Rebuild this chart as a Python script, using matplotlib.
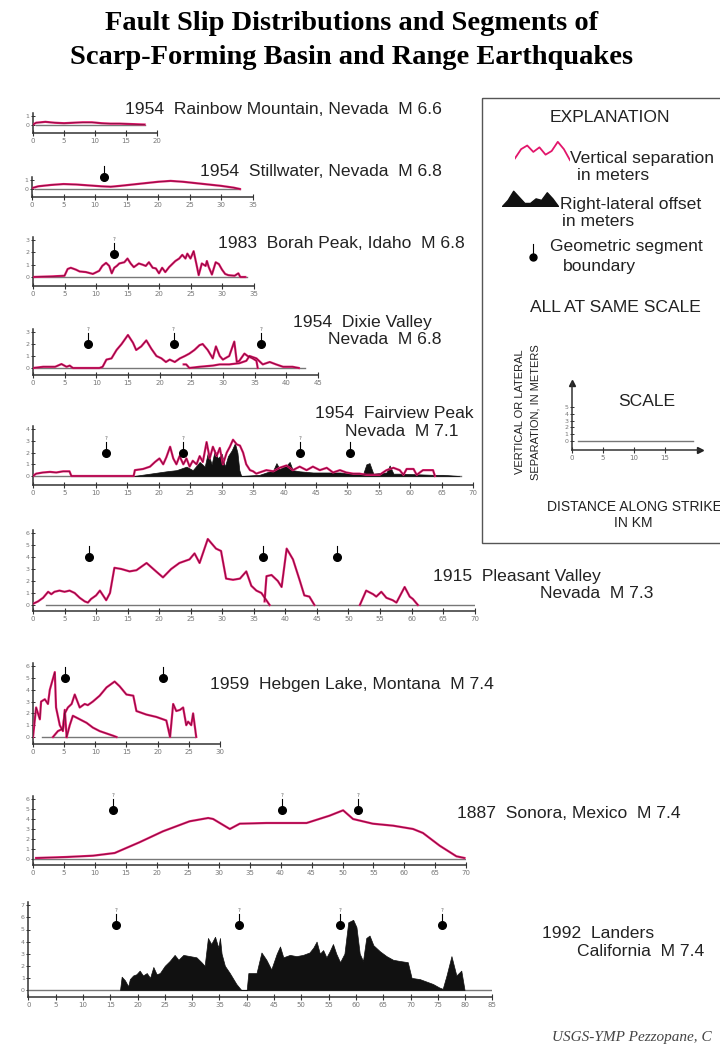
# %%
# Fault slip distributions - Basin and Range scarp-forming earthquakes

import matplotlib

matplotlib.use("Agg")
import matplotlib.pyplot as plt
import numpy as np
from matplotlib.patches import Rectangle

# %%
# Data (km along strike, metres)

rb_km = [0, 0.5, 2, 3.5, 5, 6.5, 8, 9.5, 11, 12.5, 14, 16, 18]
rb_vs = [0.05, 0.25, 0.35, 0.25, 0.2, 0.25, 0.3, 0.3, 0.2, 0.15, 0.15, 0.1, 0.05]

st_km = [0, 1, 3, 5, 7, 9, 11, 12.5, 14, 16, 18, 20, 22, 24, 26, 28, 30, 32, 33]
st_vs = [0.1, 0.3, 0.45, 0.55, 0.5, 0.4, 0.3, 0.25, 0.35, 0.5, 0.65, 0.8, 0.9,
         0.8, 0.65, 0.5, 0.35, 0.15, 0]
st_bounds = [11.5]

bo_km = [0, 3, 5, 5.5, 6, 6.8, 7.4, 8.4, 9.5, 10.5, 11, 11.6, 12.1, 12.5, 12.9,
         13.3, 13.7, 14.5, 15, 15.5, 16, 16.8, 17.4, 17.9, 18.4, 19, 19.5, 20,
         20.5, 21, 21.6, 22.1, 22.6, 23.2, 23.7, 24.2, 24.5, 25, 25.5, 26, 26.3,
         26.8, 27.4, 27.6, 27.9, 28.4, 29, 29.5, 30, 30.5, 31, 32, 32.6, 32.9, 33.7]
bo_vs = [0, 0.05, 0.1, 0.65, 0.75, 0.6, 0.45, 0.4, 0.25, 0.5, 0.9, 1.15, 0.9,
         0.3, 0.75, 0.9, 1.1, 1.2, 1.5, 1.1, 0.8, 1.1, 1.0, 0.9, 1.2, 0.75, 0.7,
         0.3, 0.75, 0.4, 0.8, 1.05, 1.3, 1.5, 1.8, 1.5, 1.9, 1.5, 2.1, 0.9, 0.15,
         1.1, 0.9, 1.3, 0.8, 0.2, 1.2, 1.05, 0.6, 0.25, 0.15, 0.1, 0.3, 0.0, 0.0]
bo_bounds = [12.9]

dx_km = [0, 1.6, 3.5, 4.5, 5.3, 5.8, 6.3, 10.5, 11, 11.6, 12.4, 13.2, 14, 15,
         15.8, 16.3, 17.1, 17.9, 18.7, 19.5, 20.3, 21, 21.6, 22.4, 23.2, 24, 24.7,
         25.5, 26.3, 26.8, 27.6, 28.4, 28.9, 29.5, 30, 31, 31.8, 32.2, 32.6, 33.4,
         33.9, 34.7, 35.3, 35.5]
dx_vs = [0, 0.1, 0.1, 0.33, 0.1, 0.2, 0, 0, 0.1, 0.7, 0.8, 1.5, 2.0, 2.75, 2.1,
         1.5, 1.8, 2.3, 1.6, 1.0, 0.8, 0.5, 0.7, 0.5, 0.8, 1.0, 1.2, 1.5, 1.9,
         2.0, 1.5, 0.8, 1.8, 1.0, 0.7, 1.0, 2.2, 0.5, 0.6, 1.2, 1.0, 0.8, 0.6, 0.0]
dx2_km = [23.8, 24.2, 24.7, 26.3, 28.4, 29.5, 31, 32.6, 33.7, 34.2, 35.3, 36.3,
          37.4, 38.4, 39.5, 41, 42]
dx2_vs = [0.3, 0.3, 0.0, 0.1, 0.2, 0.3, 0.3, 0.4, 0.6, 1.0, 0.8, 0.3, 0.5, 0.3,
          0.1, 0.1, 0.0]
dx_bounds = [8.7, 22.2, 36.0]

fv_km = [0, 0.5, 1.6, 2.7, 3.7, 4.8, 5.8, 6.1, 16.0, 16.2, 17.5, 18.6, 19.4,
         20.1, 20.7, 21.2, 21.8, 22.3, 22.8, 23.3, 23.9, 24.4, 24.9, 25.4, 26.0,
         26.5, 27.0, 27.6, 28.1, 28.6, 29.2, 29.7, 30.2, 30.8, 31.3, 31.8, 32.4,
         32.9, 33.4, 33.9, 34.5, 35.0, 35.5, 36.0, 37.1, 38.2, 39.2, 40.3, 41.3,
         42.4, 43.5, 44.5, 45.6, 46.7, 47.7, 48.8, 49.8, 50.9, 51.9, 53.0, 55.1,
         56.2, 57.3, 58.3, 58.9, 59.4, 60.5, 61.0, 62.0, 63.6, 63.9]
fv_vs = [0, 0.2, 0.3, 0.35, 0.3, 0.4, 0.4, 0.0, 0.0, 0.5, 0.6, 0.8, 1.2, 1.5,
         1.0, 1.6, 2.5, 1.5, 1.0, 1.7, 1.0, 1.5, 0.8, 1.3, 1.0, 1.7, 1.2, 2.9,
         1.5, 2.5, 1.7, 2.4, 1.0, 2.0, 2.5, 3.1, 2.7, 2.6, 2.0, 1.0, 0.5, 0.4,
         0.2, 0.3, 0.5, 0.4, 0.7, 0.9, 0.5, 0.8, 0.5, 0.8, 0.5, 0.7, 0.3, 0.5,
         0.3, 0.2, 0.2, 0.1, 0.1, 0.5, 0.7, 0.5, 0.1, 0.6, 0.6, 0.1, 0.5, 0.5, 0.0]
fv_rl_km = [16.0, 18.6, 21.2, 22.8, 24.4, 25.4, 26.5, 27.3, 27.8, 28.4, 28.9,
            29.4, 30.0, 30.5, 31.0, 31.6, 32.1, 32.5, 32.8, 33.1, 36.0, 37.1,
            38.2, 38.7, 39.2, 40.3, 40.8, 41.3, 42.4, 44.5, 46.7, 48.8, 50.9,
            52.5, 53.0, 53.5, 54.1, 56.2, 56.7, 57.3, 58.3, 63.6, 65.2, 67.8]
fv_rl = [0, 0.2, 0.4, 0.5, 0.8, 0.5, 1.2, 0.8, 2.0, 1.0, 2.2, 1.5, 1.9, 0.8,
         1.7, 2.2, 2.8, 2.0, 0.5, 0.0, 0.1, 0.3, 0.5, 1.1, 0.6, 0.9, 1.2, 0.5,
         0.4, 0.3, 0.3, 0.3, 0.2, 0.2, 1.0, 1.1, 0.2, 0.3, 0.9, 0.2, 0.2, 0.1,
         0.1, 0.0]
fv_bounds = [11.6, 23.8, 42.4]
fv_bounds_sure = [50.4]

pv1_km = [0, 0.8, 1.6, 2.4, 2.9, 3.4, 4.2, 5.0, 5.8, 6.6, 7.4, 8.2, 8.7, 9.2,
          10.0, 10.6, 11.1, 11.6, 12.2, 12.9, 14.0, 15.3, 16.4, 18.0, 19.5, 20.6,
          21.9, 23.2, 24.8, 25.6, 26.4, 27.7, 29.0, 29.8, 30.6, 31.7, 32.8, 33.8,
          34.6, 35.4, 36.2, 37.5]
pv1_vs = [0.1, 0.3, 0.6, 1.1, 0.9, 1.1, 1.2, 1.1, 1.2, 1.0, 0.6, 0.3, 0.2, 0.5,
          0.8, 1.2, 0.8, 0.4, 1.0, 3.1, 3.0, 2.8, 2.9, 3.5, 2.8, 2.3, 3.0, 3.5,
          3.8, 4.3, 3.5, 5.5, 4.7, 4.5, 2.2, 2.1, 2.2, 2.8, 1.6, 1.2, 1.0, 0.0]
pv2_km = [36.7, 37.0, 37.8, 38.8, 39.4, 40.2, 41.2, 42.3, 43.0, 43.8, 44.6]
pv2_vs = [0.3, 2.4, 2.5, 2.0, 1.5, 4.7, 3.8, 2.0, 0.8, 0.7, 0.0]
pv3_km = [51.8, 52.8, 53.9, 54.4, 55.2, 56.0, 57.0, 57.6, 58.9, 59.7, 60.2, 61.0]
pv3_vs = [0.0, 1.2, 0.9, 0.7, 1.1, 0.6, 0.4, 0.2, 1.5, 0.7, 0.5, 0.0]
pv_bounds = [8.9, 36.4, 48.2]

hb1_km = [0, 0.5, 1.1, 1.3, 1.9, 2.4, 2.7, 3.5, 3.7, 4.3, 4.8, 5.1, 5.4]
hb1_vs = [0, 2.5, 1.5, 3.0, 3.2, 2.8, 4.0, 5.5, 2.5, 1.0, 0.5, 2.3, 0.0]
hb2_km = [3.2, 4.0, 4.8, 5.1, 5.6, 6.2, 6.7, 7.5, 8.3, 8.8, 9.6, 10.7, 11.8,
          13.1, 13.9, 15.0, 16.1, 16.6, 18.2, 19.8, 21.4, 22.0, 22.5, 23.0, 23.6,
          24.1, 24.6, 24.9, 25.4, 25.7, 26.2]
hb2_vs = [0, 0.5, 0.7, 2.0, 2.5, 2.8, 3.6, 2.5, 2.8, 2.7, 3.0, 3.5, 4.2, 4.7,
          4.3, 3.6, 3.5, 2.2, 1.9, 1.7, 1.4, 0.0, 2.8, 2.2, 2.3, 2.5, 1.0, 1.3,
          1.0, 2.0, 0.0]
hb3_km = [5.4, 5.9, 6.4, 7.5, 8.6, 9.6, 10.7, 11.8, 12.9, 13.4]
hb3_vs = [0.0, 1.0, 1.8, 1.5, 1.2, 0.8, 0.5, 0.3, 0.1, 0.0]
hb_bounds = [5.1, 20.8]

so_km = [0.5, 5.4, 9.7, 13.2, 17.2, 21.0, 25.3, 28.3, 29.1, 31.8, 33.4, 37.7,
         44.2, 47.9, 50.1, 51.7, 54.9, 58.2, 61.4, 63.0, 65.7, 68.4, 69.7]
so_vs = [0.1, 0.2, 0.33, 0.6, 1.67, 2.77, 3.77, 4.1, 4.0, 3.0, 3.53, 3.6, 3.6,
         4.33, 4.87, 4.0, 3.53, 3.33, 3.0, 2.6, 1.33, 0.27, 0.1]
so_bounds = [13.0, 40.3, 52.5]

la_km = [16.8, 17.1, 17.7, 18.3, 18.6, 19.2, 19.8, 20.4, 21.0, 21.7, 22.3, 22.9,
         23.5, 24.1, 25.0, 25.9, 26.8, 27.5, 28.4, 29.6, 30.8, 31.7, 32.3, 32.9,
         33.5, 34.2, 34.8, 35.1, 35.4, 36.0, 36.9, 38.1, 39.0, 40.0, 40.3, 41.8,
         42.7, 43.6, 44.5, 45.5, 46.1, 46.7, 47.9, 49.1, 50.3, 51.5, 52.2, 52.8,
         53.4, 54.0, 54.6, 55.2, 55.8, 56.4, 57.1, 57.9, 58.6, 59.5, 60.1, 60.7,
         61.3, 61.9, 62.5, 63.2, 64.4, 65.6, 66.8, 68.0, 69.5, 70.2, 71.7, 72.9,
         74.1, 75.3, 75.9, 76.6, 77.5, 78.4, 79.3, 79.9]
la_rl = [0, 1.1, 0.8, 0.3, 0.9, 1.2, 1.3, 1.6, 1.2, 1.4, 1.0, 1.9, 1.3, 1.4, 2.0,
         2.4, 2.9, 2.5, 2.9, 2.8, 2.7, 2.3, 2.0, 4.3, 3.8, 4.4, 3.5, 4.3, 3.0,
         2.0, 1.4, 0.5, 0.0, 0.0, 1.4, 1.4, 3.1, 2.5, 1.7, 3.0, 3.6, 2.7, 2.9,
         2.8, 2.9, 3.1, 3.5, 4.0, 3.0, 3.3, 2.7, 3.2, 3.8, 3.0, 2.3, 3.0, 5.6,
         5.8, 5.2, 3.0, 2.4, 4.3, 4.5, 3.7, 3.2, 2.8, 2.5, 2.4, 2.3, 1.0, 0.9,
         0.7, 0.5, 0.2, 0.1, 1.2, 2.8, 1.2, 1.6, 0.0]
la_bounds = [16.0, 38.6, 57.1, 75.8]

# legend glyphs
leg_wiggle = [0.1, 0.6, 0.8, 0.45, 0.7, 0.3, 0.5, 1.0, 0.6, 0.0]
leg_mountain = [0, 0.4, 1.0, 0.6, 0.2, 0.2, 0.5, 0.4, 0.9, 0.5, 0]

# %%
# Layout helpers (pixel geometry of the 720 x 1046 sheet)

W, H = 720, 1046
RED = "#e2166b"
SANS = ["Liberation Sans", "DejaVu Sans"]
SERIF = ["Liberation Serif", "DejaVu Serif"]
TSIZE = 12.6

fig = plt.figure(figsize=(W / 100, H / 100), dpi=100)
fig.patch.set_facecolor("white")

ov = fig.add_axes([0, 0, 1, 1])
ov.set_xlim(0, W)
ov.set_ylim(H, 0)
ov.axis("off")


def ptext(x, y, s, size=TSIZE, **kw):
    kw.setdefault("family", SANS)
    kw.setdefault("va", "center")
    kw.setdefault("color", "#222")
    ov.text(x, y, s, fontsize=size, **kw)


def panel(x0, per_km, xmax, zero_px, per_m, axis_px, ymax, xstep=5, ytop=None):
    ybot = -(axis_px - zero_px) / per_m
    if ytop is None:
        ytop = ymax + 3 / per_m
    top_px = zero_px - ytop * per_m
    right = x0 + per_km * xmax
    ax = fig.add_axes([x0 / W, 1 - axis_px / H, (right - x0) / W,
                       (axis_px - top_px) / H])
    ax.set_xlim(0, xmax)
    ax.set_ylim(ybot, ytop)
    ax.patch.set_visible(False)
    ax.spines[["top", "right"]].set_visible(False)
    ax.spines[["left", "bottom"]].set_color("#333")
    ax.spines[["left", "bottom"]].set_linewidth(1.1)
    ax.set_xticks(np.arange(0, xmax + 0.1, xstep))
    ax.set_yticks(range(0, int(ymax) + 1))
    ax.tick_params(axis="x", direction="inout", length=4, width=0.8,
                   labelsize=5, pad=1.5, colors="#333")
    ax.tick_params(axis="y", direction="inout", length=3, width=0.7,
                   labelsize=4.5, pad=1, colors="#333")
    for lab in ax.get_xticklabels() + ax.get_yticklabels():
        lab.set_color("#777")
    ax.per_m = per_m
    return ax


def vs_line(ax, km, vs):
    ax.plot(km, vs, color=RED, lw=1.6, zorder=4)
    ax.plot(km, vs, color="#4a0c24", lw=0.45, zorder=5, alpha=0.8)


def rl_fill(ax, km, rl):
    ax.fill_between(km, 0, rl, color="#111", lw=0.5, zorder=3)


def base(ax, start, end):
    ax.plot([start, end], [0, 0], color="#777", lw=1.0, zorder=2)


def bounds(ax, xs, h, query=True):
    for x in xs:
        ax.plot([x, x], [h, h + 11 / ax.per_m], color="k", lw=0.8,
                clip_on=False, zorder=6)
        ax.plot(x, h, "o", ms=5.5, color="k", clip_on=False, zorder=6)
        if query:
            ax.text(x, h + 12 / ax.per_m, "?", fontsize=4, ha="center",
                    va="bottom", color="#666")


# %%
# Title

ov.text(352, 23, "Fault Slip Distributions and Segments of", family=SERIF,
        fontsize=20.5, fontweight="bold", ha="center", va="center")
ov.text(352, 57, "Scarp-Forming Basin and Range Earthquakes", family=SERIF,
        fontsize=20.5, fontweight="bold", ha="center", va="center")

# %%
# Panels

ax = panel(33, 6.2, 20, 125, 9, 133, 1)
base(ax, 0.5, 18)
vs_line(ax, rb_km, rb_vs)
ptext(125, 109, "1954  Rainbow Mountain, Nevada  M 6.6")

ax = panel(32, 6.3, 35, 189, 9, 197, 1)
base(ax, 0.5, 33)
vs_line(ax, st_km, st_vs)
bounds(ax, st_bounds, 1.3, query=False)
ptext(200, 172, "1954  Stillwater, Nevada  M 6.8")

ax = panel(33, 6.3, 35, 277, 12.3, 286, 3)
base(ax, 0, 34)
vs_line(ax, bo_km, bo_vs)
bounds(ax, bo_bounds, 1.9)
ptext(218, 243, "1983  Borah Peak, Idaho  M 6.8")

ax = panel(33, 6.33, 45, 368, 12, 375, 3)
base(ax, 0, 43)
vs_line(ax, dx_km, dx_vs)
vs_line(ax, dx2_km, dx2_vs)
bounds(ax, dx_bounds, 2.0)
ptext(293, 323, "1954  Dixie Valley")
ptext(328, 340, "Nevada  M 6.8")

ax = panel(33, 6.29, 70, 476, 11.7, 485, 4)
base(ax, 0, 68)
rl_fill(ax, fv_rl_km, fv_rl)
vs_line(ax, fv_km, fv_vs)
bounds(ax, fv_bounds, 2.0)
bounds(ax, fv_bounds_sure, 2.0, query=False)
ptext(315, 414, "1954  Fairview Peak")
ptext(345, 431, "Nevada  M 7.1")

ax = panel(33, 6.31, 70, 605, 12, 611, 6)
base(ax, 2, 70)
vs_line(ax, pv1_km, pv1_vs)
vs_line(ax, pv2_km, pv2_vs)
vs_line(ax, pv3_km, pv3_vs)
bounds(ax, pv_bounds, 4.0, query=False)
ptext(433, 577, "1915  Pleasant Valley")
ptext(540, 594, "Nevada  M 7.3")

ax = panel(33, 6.23, 30, 737, 11.8, 744, 6)
base(ax, 1.5, 26)
vs_line(ax, hb1_km, hb1_vs)
vs_line(ax, hb2_km, hb2_vs)
vs_line(ax, hb3_km, hb3_vs)
bounds(ax, hb_bounds, 5.0, query=False)
ptext(210, 684, "1959  Hebgen Lake, Montana  M 7.4")

ax = panel(33, 6.19, 70, 859, 10, 865, 6)
base(ax, 0, 70)
vs_line(ax, so_km, so_vs)
bounds(ax, so_bounds, 4.9)
ptext(457, 813, "1887  Sonora, Mexico  M 7.4")

ax = panel(28.3, 5.46, 85, 990, 12.1, 997, 7)
base(ax, 0, 85)
rl_fill(ax, la_km, la_rl)
bounds(ax, la_bounds, 5.35)
ptext(542, 933, "1992  Landers")
ptext(577, 951, "California  M 7.4")

# %%
# Explanation box

ov.add_patch(Rectangle((482, 98), 260, 445, fill=False, ec="#555", lw=1.0))
ptext(610, 118, "EXPLANATION", ha="center")

lg = fig.add_axes([515 / W, 1 - 162 / H, 55 / W, 22 / H])
lg.plot(range(len(leg_wiggle)), leg_wiggle, color=RED, lw=1.3)
lg.set_xlim(0, len(leg_wiggle) - 1)
lg.set_ylim(-0.1, 1.1)
lg.axis("off")
ptext(570, 158, "Vertical separation")
ptext(577, 176, "in meters")

lg = fig.add_axes([502 / W, 1 - 206 / H, 56 / W, 16 / H])
lg.fill_between(range(len(leg_mountain)), 0, leg_mountain, color="#111")
lg.set_xlim(0, len(leg_mountain) - 1)
lg.set_ylim(0, 1.05)
lg.axis("off")
ptext(560, 204, "Right-lateral offset")
ptext(562, 222, "in meters")

ov.plot([533, 533], [244, 256], color="k", lw=0.8)
ov.plot(533, 257, "o", ms=5, color="k")
ptext(550, 246, "Geometric segment")
ptext(563, 266, "boundary")

ptext(615, 307, "ALL AT SAME SCALE", ha="center")

sc = panel(572, 6.2, 20.6, 441, 6.8, 450, 5, ytop=8.6)
sc.set_xticks([0, 5, 10, 15])
sc.plot([1, 19.5], [0, 0], color="#777", lw=1.0)
sc.plot(0, 8.6, "^", ms=5, color="#222", clip_on=False)
sc.plot(20.6, sc.get_ylim()[0], ">", ms=5, color="#222", clip_on=False)
ptext(618, 402, "SCALE")
ptext(520, 412, "VERTICAL OR LATERAL", size=8, rotation=90, ha="center")
ptext(535, 412, "SEPARATION, IN METERS", size=8, rotation=90, ha="center")
ptext(547, 507, "DISTANCE ALONG STRIKE", size=10)
ptext(633, 523, "IN KM", size=10, ha="center")

# footer
ov.text(552, 1037, "USGS-YMP Pezzopane, C", family=SERIF, fontsize=11,
        style="italic", color="#444", va="center")

fig.savefig("out.png", dpi=100, facecolor="white")
